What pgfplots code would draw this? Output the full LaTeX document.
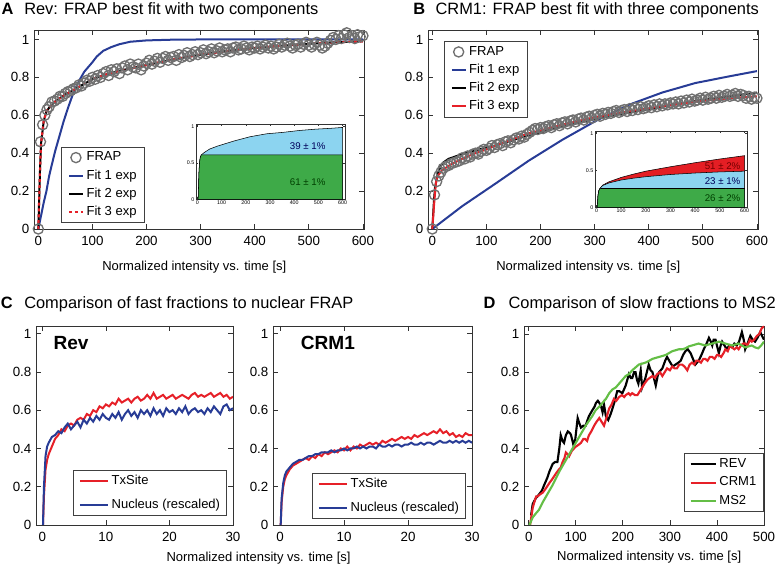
\documentclass[border=0pt]{standalone}
\usepackage{fontspec}
\setmainfont{Liberation Sans}
\usepackage{pgfplots}
\pgfplotsset{compat=1.18}

\definecolor{fitblue}{RGB}{40,60,150}
\definecolor{fitred}{RGB}{230,32,40}
\definecolor{ms2green}{RGB}{100,190,70}
\definecolor{frapgray}{RGB}{112,112,112}
\definecolor{inblue}{RGB}{140,212,240}
\definecolor{ingreen}{RGB}{62,170,72}
\definecolor{inred}{RGB}{228,30,36}

\pgfplotsset{
  base/.style={
    scale only axis, anchor=south west,
    axis line style={black!80, line width=0.5pt},
    tick style={black!80, line width=0.5pt},
    tick align=inside, major tick length=3.5pt,
    tick label style={font=\fontsize{10}{12}\selectfont},
    xticklabel style={yshift=-2pt},
    /pgf/number format/assume math mode=true,
    legend cell align=left,
    ytick={0,0.2,0.4,0.6,0.8,1},
  },
  inset/.style={
    scale only axis, anchor=south west,
    axis background/.style={fill=white},
    axis line style={black!80, line width=0.4pt},
    tick style={black!80, line width=0.3pt},
    tick align=inside, major tick length=1.5pt,
    tick label style={font=\fontsize{4}{4.5}\selectfont, inner sep=1pt},
    /pgf/number format/assume math mode=true,
    xmin=-6, xmax=610, ymin=0, ymax=1.03,
    xtick={0,100,200,300,400,500,600}, ytick={0,0.5,1},
  },
  shortleg/.style={
    legend image code/.code={\draw[mark repeat=2,mark phase=2,##1] plot coordinates {(0cm,0cm) (0.18cm,0cm) (0.36cm,0cm)};},
    legend style={draw=black!75, line width=0.5pt, fill=white,
      font=\fontsize{9.8}{11}\selectfont, inner xsep=5pt, inner ysep=2.5pt,
      row sep=2.6pt, column sep=1pt,
      nodes={inner sep=1pt, text height=7pt, text depth=2pt}},
  },
  longleg/.style={
    legend image code/.code={\draw[##1] (0cm,0cm) -- (#1,0cm);},
    legend style={draw=black!75, line width=0.5pt, fill=white,
      font=\fontsize{9.75}{11}\selectfont, inner xsep=4pt, inner ysep=2.5pt,
      column sep=1pt,
      nodes={inner sep=1pt, text height=7pt, text depth=2pt}},
  },
  frap/.style={only marks, mark=o, mark size=3.8pt, frapgray, mark options={line width=1pt}},
}

\begin{document}
\begin{tikzpicture}
\useasboundingbox (0,0) rectangle (581.25pt,424.5pt);

% ---------------- Panel A ----------------
\begin{axis}[base, at={(25.5pt,252.75pt)}, width=247.5pt, height=149.25pt,
  xmin=-8, xmax=602, ymin=0, ymax=1.05, xtick={0,100,200,300,400,500,600},
  clip=false, shortleg,
  legend style={at={(0.082,0.03)}, anchor=south west}]
\addplot[frap] coordinates {
 (0,0) (4,0.46) (8,0.55) (12,0.60) (16,0.63) (20,0.645) (25,0.67) (30,0.675) (35,0.685) (40,0.70)
 (45,0.70) (50,0.715) (55,0.725) (60,0.73) (65,0.74) (70,0.745) (75,0.76) (80,0.755) (85,0.77) (90,0.785)
 (95,0.78) (100,0.80) (105,0.79) (110,0.81) (115,0.80) (120,0.82) (125,0.83) (130,0.81) (135,0.84) (140,0.83)
 (145,0.845) (150,0.82) (155,0.85) (160,0.86) (165,0.84) (170,0.87) (175,0.855) (180,0.85) (185,0.87) (190,0.84)
 (195,0.86) (200,0.875) (205,0.89) (210,0.87) (215,0.885) (220,0.90) (225,0.88) (230,0.90) (235,0.91) (240,0.89)
 (245,0.905) (250,0.91) (255,0.89) (260,0.92) (265,0.905) (270,0.915) (275,0.93) (280,0.91) (285,0.92) (290,0.935)
 (295,0.92) (300,0.93) (305,0.945) (310,0.925) (315,0.935) (320,0.95) (325,0.93) (330,0.94) (335,0.955) (340,0.935)
 (345,0.945) (350,0.95) (355,0.935) (360,0.955) (365,0.96) (370,0.945) (375,0.95) (380,0.965) (385,0.955) (390,0.945)
 (395,0.96) (400,0.955) (405,0.965) (410,0.95) (415,0.96) (420,0.97) (425,0.955) (430,0.965) (435,0.95) (440,0.96)
 (445,0.975) (450,0.96) (455,0.97) (460,0.98) (465,0.965) (470,0.955) (475,0.97) (480,0.975) (485,0.96) (490,0.975)
 (495,0.985) (500,0.97) (505,0.96) (510,0.975) (515,0.985) (520,0.97) (525,0.955) (530,0.965) (535,0.98) (540,0.995)
 (545,1.01) (550,1.00) (555,1.02) (560,1.005) (565,1.025) (570,1.035) (575,1.01) (580,1.02) (585,1.005) (590,1.025)
 (595,1.015) (600,1.02)
};
\addlegendentry{FRAP}
\addplot[fitblue, line width=1.5pt] coordinates {
 (0,0) (5,0.07) (10,0.14) (15,0.2) (20,0.28) (25,0.34) (31,0.41) (40,0.5) (47,0.57) (55,0.64)
 (65,0.72) (75,0.78) (85,0.83) (100,0.88) (108,0.91) (120,0.94) (135,0.96) (150,0.975) (170,0.988)
 (200,0.995) (250,0.999) (300,1) (600,1)
};
\addlegendentry{Fit 1 exp}
\addplot[black, line width=1.5pt] coordinates {
 (0,0) (3,0.3) (5,0.45) (10,0.57) (15,0.62) (20,0.64) (30,0.67) (40,0.69) (50,0.71) (60,0.725)
 (75,0.75) (100,0.79) (125,0.815) (150,0.835) (175,0.85) (200,0.865) (250,0.895) (300,0.92)
 (350,0.94) (400,0.955) (450,0.967) (500,0.977) (550,0.985) (600,0.99)
};
\addlegendentry{Fit 2 exp}
\addplot[fitred, line width=1.6pt, dash pattern=on 2.2pt off 2.2pt] coordinates {
 (0,0) (3,0.3) (5,0.45) (10,0.57) (15,0.62) (20,0.64) (30,0.67) (40,0.69) (50,0.71) (60,0.725)
 (75,0.75) (100,0.79) (125,0.815) (150,0.835) (175,0.85) (200,0.865) (250,0.895) (300,0.92)
 (350,0.94) (400,0.955) (450,0.967) (500,0.977) (550,0.985) (600,0.99)
};
\addlegendentry{Fit 3 exp}
\end{axis}

% inset A
\begin{axis}[inset, at={(147pt,275pt)}, width=111.75pt, height=56.25pt]
\addplot[draw=black, line width=0.4pt, fill=inblue] coordinates {
 (3,0) (6,0.35) (9,0.52) (12,0.58) (16,0.61) (27,0.64) (50,0.69) (82,0.73) (150,0.8) (218,0.86)
 (286,0.9) (355,0.92) (423,0.946) (491,0.964) (550,0.975) (600,0.987)
} \closedcycle;
\addplot[draw=black, line width=0.4pt, fill=ingreen] coordinates {
 (3,0) (6,0.35) (9,0.52) (12,0.58) (16,0.61) (600,0.61)
} \closedcycle;
\node[font=\fontsize{7.3}{8}\selectfont, text=blue!35!black] at (axis cs:456,0.73) {39 ± 1\%};
\node[font=\fontsize{7.3}{8}\selectfont, text=green!25!black] at (axis cs:456,0.24) {61 ± 1\%};
\end{axis}

% ---------------- Panel B ----------------
\begin{axis}[base, at={(321pt,252.75pt)}, width=247.5pt, height=149.25pt,
  xmin=-8, xmax=602, ymin=0, ymax=1.05, xtick={0,100,200,300,400,500,600},
  clip=false, shortleg,
  legend style={at={(0.048,0.945)}, anchor=north west}]
\addplot[frap] coordinates {
 (0,0) (4,0.18) (8,0.25) (12,0.28) (16,0.30) (20,0.32) (25,0.33) (30,0.335) (35,0.345) (40,0.35)
 (45,0.355) (50,0.36) (55,0.375) (60,0.37) (65,0.385) (70,0.38) (75,0.395) (80,0.40) (85,0.395) (90,0.41)
 (95,0.42) (100,0.415) (105,0.425) (110,0.44) (115,0.43) (120,0.445) (125,0.45) (130,0.44) (135,0.46) (140,0.465)
 (145,0.455) (150,0.47) (155,0.48) (160,0.475) (165,0.49) (170,0.485) (175,0.50) (180,0.51) (185,0.52) (190,0.53)
 (195,0.525) (200,0.535) (205,0.53) (210,0.54) (215,0.545) (220,0.535) (225,0.55) (230,0.555) (235,0.545) (240,0.56)
 (245,0.565) (250,0.555) (255,0.57) (260,0.575) (265,0.565) (270,0.58) (275,0.585) (280,0.575) (285,0.59) (290,0.595)
 (295,0.585) (300,0.60) (305,0.605) (310,0.595) (315,0.61) (320,0.605) (325,0.615) (330,0.61) (335,0.62) (340,0.625)
 (345,0.615) (350,0.625) (355,0.63) (360,0.62) (365,0.635) (370,0.625) (375,0.64) (380,0.63) (385,0.645) (390,0.635)
 (395,0.64) (400,0.65) (405,0.64) (410,0.655) (415,0.645) (420,0.66) (425,0.65) (430,0.66) (435,0.655) (440,0.665)
 (445,0.66) (450,0.67) (455,0.66) (460,0.675) (465,0.665) (470,0.68) (475,0.67) (480,0.685) (485,0.675) (490,0.68)
 (495,0.69) (500,0.68) (505,0.695) (510,0.685) (515,0.69) (520,0.70) (525,0.69) (530,0.705) (535,0.695) (540,0.70)
 (545,0.71) (550,0.70) (555,0.705) (560,0.715) (565,0.70) (570,0.71) (575,0.705) (580,0.69) (585,0.70) (590,0.685)
 (595,0.695) (600,0.69)
};
\addlegendentry{FRAP}
\addplot[fitblue, line width=1.5pt] coordinates {
 (0,0) (55,0.12) (117,0.24) (178,0.36) (240,0.47) (302,0.57) (363,0.655) (425,0.72) (486,0.77)
 (548,0.805) (600,0.833)
};
\addlegendentry{Fit 1 exp}
\addplot[black, line width=1.5pt] coordinates {
 (0,0) (3,0.15) (5,0.22) (10,0.29) (15,0.33) (20,0.35) (30,0.37) (40,0.38) (55,0.395) (75,0.41)
 (100,0.43) (117,0.44) (150,0.47) (178,0.495) (200,0.51) (240,0.54) (300,0.58) (363,0.615)
 (425,0.645) (486,0.675) (550,0.70) (600,0.72)
};
\addlegendentry{Fit 2 exp}
\addplot[fitred, line width=1.5pt] coordinates {
 (0,0) (3,0.12) (5,0.19) (7,0.25) (10,0.28) (18,0.31) (37,0.345) (55,0.37) (75,0.395)
 (100,0.42) (117,0.44) (150,0.475) (178,0.505) (200,0.52) (240,0.55) (300,0.59) (363,0.62)
 (425,0.648) (486,0.672) (550,0.69) (600,0.70)
};
\addlegendentry{Fit 3 exp}
\end{axis}

% inset B
\begin{axis}[inset, at={(446.25pt,269pt)}, width=114pt, height=57pt]
\addplot[draw=black, line width=0.4pt, fill=inred] coordinates {
 (3,0) (6,0.15) (9,0.22) (13,0.25) (18,0.27) (25,0.30) (50,0.345) (100,0.405) (150,0.45) (200,0.49)
 (300,0.55) (400,0.605) (500,0.655) (600,0.70)
} \closedcycle;
\addplot[draw=black, line width=0.4pt, fill=inblue] coordinates {
 (3,0) (6,0.15) (9,0.22) (13,0.25) (18,0.27) (25,0.295) (50,0.33) (100,0.37) (150,0.395) (200,0.415)
 (300,0.445) (400,0.465) (500,0.48) (600,0.49)
} \closedcycle;
\addplot[draw=black, line width=0.4pt, fill=ingreen] coordinates {
 (3,0) (6,0.15) (9,0.22) (13,0.25) (18,0.255) (600,0.255)
} \closedcycle;
\node[font=\fontsize{7.3}{8}\selectfont, text=red!45!black] at (axis cs:511,0.56) {51 ± 2\%};
\node[font=\fontsize{7.3}{8}\selectfont, text=blue!35!black] at (axis cs:511,0.355) {23 ± 1\%};
\node[font=\fontsize{7.3}{8}\selectfont, text=green!25!black] at (axis cs:511,0.12) {26 ± 2\%};
\end{axis}

% ---------------- Panel C (Rev) ----------------
\begin{axis}[base, at={(27pt,30.75pt)}, width=147.75pt, height=149.25pt,
  xmin=-1, xmax=30, ymin=0, ymax=1.04, xtick={0,10,20,30},
  longleg=0.74cm, legend style={at={(0.97,0.045)}, anchor=south east, row sep=7.2pt}]
\addplot[fitred, line width=1.5pt] coordinates {
 (0.1,0) (0.25,0.15) (0.5,0.29) (0.75,0.34) (1,0.37) (1.5,0.41) (2,0.45) (2.5,0.47) (3,0.5) (3.5,0.49)
 (4,0.52) (4.5,0.53) (5,0.52) (5.5,0.55) (6,0.56) (6.5,0.55) (7,0.58) (7.5,0.57) (8,0.6) (8.5,0.59)
 (9,0.62) (9.5,0.61) (10,0.63) (10.5,0.62) (11,0.64) (11.5,0.63) (12,0.66) (12.5,0.64) (13,0.65) (13.5,0.66)
 (14,0.64) (14.5,0.66) (15,0.67) (15.5,0.65) (16,0.66) (16.5,0.68) (17,0.66) (17.5,0.69) (18,0.66) (18.5,0.67)
 (19,0.68) (19.5,0.66) (20,0.67) (20.5,0.68) (21,0.66) (21.5,0.67) (22,0.68) (22.5,0.67) (23,0.66) (23.5,0.68)
 (24,0.69) (24.5,0.67) (25,0.68) (25.5,0.67) (26,0.68) (26.5,0.69) (27,0.67) (27.5,0.68) (28,0.69) (28.5,0.67)
 (29,0.68) (29.5,0.66) (30,0.67)
};
\addlegendentry{TxSite}
\addplot[fitblue, line width=1.5pt] coordinates {
 (0.1,0) (0.25,0.2) (0.5,0.36) (0.75,0.41) (1,0.43) (1.5,0.46) (2,0.47) (2.5,0.49) (3,0.48) (3.5,0.51)
 (4,0.53) (4.5,0.5) (5,0.52) (5.5,0.54) (6,0.51) (6.5,0.55) (7,0.53) (7.5,0.56) (8,0.54) (8.5,0.57)
 (9,0.55) (9.5,0.58) (10,0.56) (10.5,0.55) (11,0.58) (11.5,0.56) (12,0.59) (12.5,0.55) (13,0.58) (13.5,0.6)
 (14,0.57) (14.5,0.59) (15,0.56) (15.5,0.6) (16,0.58) (16.5,0.6) (17,0.57) (17.5,0.61) (18,0.58) (18.5,0.6)
 (19,0.57) (19.5,0.61) (20,0.59) (20.5,0.6) (21,0.58) (21.5,0.61) (22,0.59) (22.5,0.62) (23,0.58) (23.5,0.6)
 (24,0.61) (24.5,0.59) (25,0.6) (25.5,0.58) (26,0.61) (26.5,0.59) (27,0.62) (27.5,0.6) (28,0.58) (28.5,0.62)
 (29,0.63) (29.5,0.6) (30,0.61)
};
\addlegendentry{Nucleus (rescaled)}
\end{axis}

% ---------------- Panel C (CRM1) ----------------
\begin{axis}[base, at={(204.75pt,30.75pt)}, width=149.25pt, height=149.25pt,
  xmin=-1.1, xmax=30, ymin=0, ymax=1.04, xtick={0,10,20,30},
  longleg=0.74cm, legend style={at={(0.97,0.03)}, anchor=south east, row sep=7.2pt}]
\addplot[fitred, line width=1.5pt] coordinates {
 (0.1,0) (0.25,0.12) (0.5,0.2) (0.75,0.24) (1,0.26) (1.5,0.29) (2,0.31) (2.5,0.32) (3,0.33) (3.5,0.34)
 (4,0.35) (4.5,0.34) (5,0.36) (5.5,0.35) (6,0.37) (6.5,0.36) (7,0.38) (7.5,0.37) (8,0.38) (8.5,0.39)
 (9,0.38) (9.5,0.4) (10,0.39) (10.5,0.41) (11,0.39) (11.5,0.41) (12,0.4) (12.5,0.42) (13,0.41) (13.5,0.42)
 (14,0.43) (14.5,0.42) (15,0.43) (15.5,0.42) (16,0.44) (16.5,0.43) (17,0.44) (17.5,0.45) (18,0.44) (18.5,0.45)
 (19,0.46) (19.5,0.45) (20,0.46) (20.5,0.45) (21,0.47) (21.5,0.46) (22,0.47) (22.5,0.48) (23,0.47) (23.5,0.48)
 (24,0.49) (24.5,0.48) (25,0.5) (25.5,0.48) (26,0.49) (26.5,0.47) (27,0.48) (27.5,0.46) (28,0.47) (28.5,0.46)
 (29,0.48) (29.5,0.47) (30,0.47)
};
\addlegendentry{TxSite}
\addplot[fitblue, line width=1.5pt] coordinates {
 (0.1,0) (0.25,0.14) (0.5,0.22) (0.75,0.26) (1,0.28) (1.5,0.3) (2,0.32) (2.5,0.33) (3,0.34) (3.5,0.34)
 (4,0.35) (4.5,0.36) (5,0.36) (5.5,0.37) (6,0.37) (6.5,0.38) (7,0.38) (7.5,0.38) (8,0.39) (8.5,0.38)
 (9,0.39) (9.5,0.39) (10,0.4) (10.5,0.39) (11,0.4) (11.5,0.4) (12,0.41) (12.5,0.4) (13,0.41) (13.5,0.4)
 (14,0.41) (14.5,0.41) (15,0.4) (15.5,0.42) (16,0.41) (16.5,0.41) (17,0.42) (17.5,0.41) (18,0.42) (18.5,0.42)
 (19,0.41) (19.5,0.42) (20,0.42) (20.5,0.43) (21,0.42) (21.5,0.42) (22,0.43) (22.5,0.42) (23,0.43) (23.5,0.43)
 (24,0.42) (24.5,0.43) (25,0.44) (25.5,0.43) (26,0.43) (26.5,0.44) (27,0.43) (27.5,0.44) (28,0.43) (28.5,0.44)
 (29,0.43) (29.5,0.44) (30,0.43)
};
\addlegendentry{Nucleus (rescaled)}
\end{axis}

% ---------------- Panel D ----------------
\begin{axis}[base, at={(393pt,30.75pt)}, width=180pt, height=149.25pt,
  xmin=-10, xmax=500, ymin=0, ymax=1.042, xtick={0,100,200,300,400,500},
  longleg=0.66cm, legend style={at={(0.997,0.065)}, anchor=south east, row sep=2.8pt}]
\addplot[black, line width=1.6pt] coordinates {
 (5,0.05) (8.5,0.11) (15,0.14) (22,0.16) (28,0.18) (33,0.21) (40,0.25) (44,0.28) (51,0.32) (56,0.33)
 (61,0.33) (65,0.4) (68,0.47) (72,0.44) (75,0.43) (79,0.47) (83,0.49) (88,0.48) (90,0.47) (95,0.42)
 (99,0.45) (104,0.56) (108,0.53) (111,0.51) (116,0.52) (121,0.52) (125,0.55) (128,0.57) (135,0.6) (140,0.62)
 (143,0.64) (147,0.65) (150,0.64) (154,0.62) (157,0.59) (160,0.63) (164,0.57) (169,0.55) (174,0.58) (178,0.61)
 (183,0.65) (188,0.7) (193,0.7) (199,0.69) (206,0.73) (213,0.79) (217,0.77) (220,0.77) (224,0.8) (227,0.8)
 (230,0.76) (233,0.74) (238,0.81) (241,0.72) (248,0.77) (255,0.84) (259,0.81) (263,0.8) (267,0.76) (270,0.73)
 (274,0.78) (277,0.8) (284,0.82) (290,0.86) (294,0.88) (301,0.85) (306,0.83) (312,0.84) (318,0.85) (323,0.86)
 (328,0.89) (333,0.91) (338,0.92) (344,0.9) (349,0.87) (354,0.84) (361,0.86) (367,0.89) (372,0.92) (378,0.95)
 (383,0.98) (387,0.96) (390,0.94) (393,0.97) (397,0.97) (401,0.93) (404,0.9) (408,0.94) (411,0.96) (416,0.94)
 (421,0.92) (426,0.94) (432,0.93) (437,0.95) (442,0.94) (447,0.96) (453,1.01) (457,0.97) (460,0.92) (465,0.95)
 (471,0.99) (476,0.97) (481,0.96) (486,0.98) (492,1.01) (496,0.99) (500,0.97)
};
\addlegendentry{REV}
\addplot[fitred, line width=1.6pt] coordinates {
 (3,0) (6,0.05) (8.5,0.09) (12,0.12) (16,0.15) (19,0.15) (24,0.16) (30,0.17) (36,0.19) (44,0.22)
 (50,0.24) (58,0.27) (64,0.29) (68,0.3) (72,0.33) (76,0.35) (79,0.38) (83,0.37) (86,0.36) (92,0.39)
 (96,0.4) (100,0.41) (106,0.42) (111,0.43) (116,0.45) (120,0.45) (124,0.44) (128,0.47) (133,0.49) (139,0.52)
 (144,0.54) (150,0.56) (155,0.54) (160,0.52) (165,0.56) (171,0.61) (176,0.63) (181,0.66) (186,0.65) (192,0.67)
 (198,0.68) (203,0.67) (206,0.68) (212,0.69) (216,0.68) (220,0.69) (226,0.68) (231,0.68) (236,0.7) (241,0.72)
 (246,0.74) (252,0.76) (257,0.77) (263,0.78) (268,0.77) (273,0.79) (279,0.8) (284,0.78) (289,0.8) (294,0.82)
 (300,0.81) (305,0.83) (310,0.82) (315,0.82) (320,0.84) (326,0.84) (331,0.83) (337,0.81) (342,0.84) (347,0.85)
 (352,0.84) (356,0.86) (361,0.86) (366,0.85) (371,0.87) (375,0.87) (380,0.86) (385,0.88) (390,0.88) (395,0.87)
 (400,0.89) (404,0.89) (409,0.88) (414,0.9) (418,0.92) (423,0.91) (428,0.94) (432,0.93) (437,0.92) (442,0.93)
 (446,0.92) (451,0.94) (456,0.95) (460,0.95) (465,0.94) (470,0.97) (474,0.96) (479,0.97) (485,0.99) (490,1.0)
 (495,1.03) (500,1.04)
};
\addlegendentry{CRM1}
\addplot[ms2green, line width=1.6pt] coordinates {
 (1.5,0) (5,0.02) (8.5,0.04) (15,0.06) (22,0.08) (30,0.12) (37,0.15) (44,0.18) (51,0.21) (58,0.245)
 (65,0.28) (72,0.31) (79,0.34) (86,0.37) (93,0.4) (100,0.43) (107,0.46) (114,0.49) (121,0.52) (128,0.545)
 (135,0.57) (142,0.6) (150,0.62) (157,0.64) (164,0.66) (171,0.69) (178,0.71) (185,0.72) (192,0.74) (199,0.76)
 (206,0.78) (213,0.79) (220,0.81) (227,0.825) (234,0.84) (241,0.845) (248,0.85) (256,0.86) (263,0.87) (270,0.875)
 (277,0.88) (284,0.885) (291,0.89) (298,0.9) (305,0.91) (312,0.915) (319,0.92) (326,0.92) (333,0.925) (340,0.935)
 (347,0.94) (354,0.945) (361,0.95) (368,0.945) (375,0.94) (382,0.945) (390,0.95) (397,0.955) (404,0.96) (411,0.955)
 (418,0.95) (425,0.945) (432,0.94) (439,0.945) (446,0.95) (453,0.94) (460,0.93) (467,0.935) (474,0.94) (481,0.93)
 (488,0.925) (494,0.94) (500,0.96)
};
\addlegendentry{MS2}
\end{axis}

% ---------------- titles and labels ----------------
\tikzset{ttl/.style={anchor=base west, inner sep=0pt, font=\fontsize{12.3}{14}\selectfont},
         xl/.style={anchor=center, inner sep=0pt, font=\fontsize{9.75}{11}\selectfont}}
\node[ttl, font=\fontsize{12.3}{14}\selectfont\bfseries] at (1pt,413.6pt) {A};
\node[ttl] at (18pt,413.6pt) {Rev: FRAP best fit with two components};
\node[ttl, font=\fontsize{12.3}{14}\selectfont\bfseries] at (309.75pt,413.6pt) {B};
\node[ttl] at (326.5pt,413.6pt) {CRM1: FRAP best fit with three components};
\node[ttl, font=\fontsize{12.3}{14}\selectfont\bfseries] at (0.5pt,193.3pt) {C};
\node[ttl] at (18pt,193.3pt) {Comparison of fast fractions to nuclear FRAP};
\node[ttl, font=\fontsize{12.3}{14}\selectfont\bfseries] at (362.5pt,193.3pt) {D};
\node[ttl] at (381.25pt,193.3pt) {Comparison of slow fractions to MS2};

\node[xl] at (145.7pt,224.5pt) {Normalized intensity vs. time [s]};
\node[xl] at (441.25pt,224.5pt) {Normalized intensity vs. time [s]};
\node[xl] at (193.9pt,5.8pt) {Normalized intensity vs. time [s]};
\node[xl] at (486.9pt,7pt) {Normalized intensity vs. time [s]};

\node[anchor=base west, inner sep=0pt, font=\fontsize{14.3}{16}\selectfont\bfseries] at (40pt,162pt) {Rev};
\node[anchor=base west, inner sep=0pt, font=\fontsize{14.3}{16}\selectfont\bfseries] at (225.5pt,162pt) {CRM1};
\end{tikzpicture}
\end{document}
